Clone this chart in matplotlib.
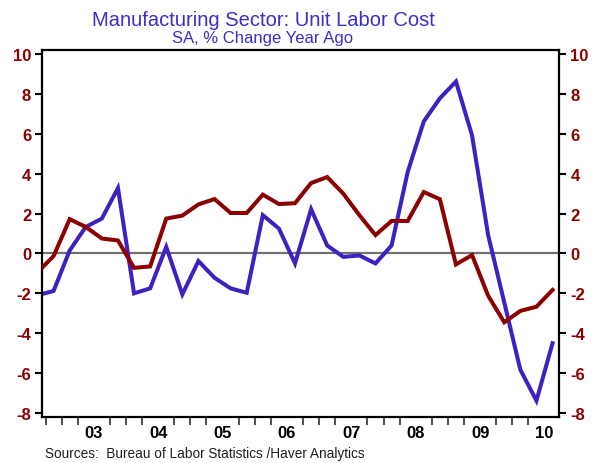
import numpy as np
import matplotlib
matplotlib.use('Agg')
import matplotlib.pyplot as plt

# quarterly data, Q3 2002 .. Q3 2010 (points at mid quarter)
start_year = 2002
start_q = 3
blue_vals = [-2.09, -1.88, 0.15, 1.33, 1.75, 3.28,
             -2.0, -1.75, 0.33, -2.05,
             -0.38, -1.22, -1.75, -1.97,
             1.92, 1.25, -0.5, 2.22,
             0.4, -0.17, -0.1, -0.5,
             0.4, 4.08, 6.62, 7.78,
             8.62, 5.92, 0.92, -2.45,
             -5.83, -7.38, -4.5]
red_vals = [-0.95, -0.13, 1.72, 1.33, 0.75, 0.65,
            -0.72, -0.65, 1.75, 1.9,
            2.46, 2.73, 2.03, 2.03,
            2.95, 2.48, 2.52, 3.53,
            3.83, 3.0, 1.92, 0.92,
            1.63, 1.63, 3.08, 2.72,
            -0.55, -0.08, -2.12, -3.45,
            -2.88, -2.67, -1.83]
year_labels = ['03', '04', '05', '06', '07', '08', '09', '10']

n = len(blue_vals)
t = start_year + (start_q - 1) / 4.0 + 0.125 + np.arange(n) / 4.0

blue = '#4020C0'
dred = '#8B0000'
fnt = 12

fig = plt.figure(figsize=(6.01, 4.64), dpi=100)
ax = fig.add_axes([0.0704, 0.0991, 0.8602, 0.7909])

ax.axhline(0, color='#707070', lw=1.6, zorder=1)
ax.plot(t, red_vals, color=dred, lw=2.9, solid_joinstyle='miter', zorder=3)
ax.plot(t, blue_vals, color=blue, lw=2.9, solid_joinstyle='miter', zorder=2)

ax.set_xlim(2002.70, 2010.73)
ax.set_ylim(-8.2, 10.2)

yt = np.arange(-8, 11, 2)
ax.set_yticks(yt)
ax.set_yticklabels([str(v) for v in yt])
ax.tick_params(axis='y', which='both', left=True, right=True, labelleft=True,
               labelright=True, direction='out', length=5, width=1.5,
               labelsize=fnt, labelcolor=dred, pad=3)
for lb in ax.get_yticklabels():
    lb.set_fontweight('bold')
    lb.set_family('Liberation Sans')

# year labels at mid-year, quarter ticks elsewhere
mids = [2003.5 + i for i in range(len(year_labels))]
ax.set_xticks(mids)
ax.set_xticklabels(year_labels, fontsize=fnt, fontweight='bold', family='Liberation Sans')
qt = [q for q in np.arange(2002.75, 2010.3, 0.25) if (q % 1) != 0.5]
ax.set_xticks(qt, minor=True)
ax.tick_params(axis='x', which='major', length=0, pad=6)
ax.tick_params(axis='x', which='minor', direction='out', length=6, width=1.3, color='#404040')

for s in ax.spines.values():
    s.set_linewidth(1.6)
    s.set_color('black')

fig.text(0.438, 0.943, 'Manufacturing Sector: Unit Labor Cost', ha='center', va='baseline',
         color='#3A2FCC', fontsize=14.5, family='Liberation Sans')
fig.text(0.437, 0.908, 'SA, % Change Year Ago', ha='center', va='baseline',
         color='#3A2FCC', fontsize=12, family='Liberation Sans')
fig.text(0.075, 0.012, 'Sources:  Bureau of Labor Statistics /Haver Analytics', ha='left',
         va='baseline', color='#202020', fontsize=9.8, family='Liberation Sans')

plt.savefig('out.png', dpi=100, facecolor='w')
